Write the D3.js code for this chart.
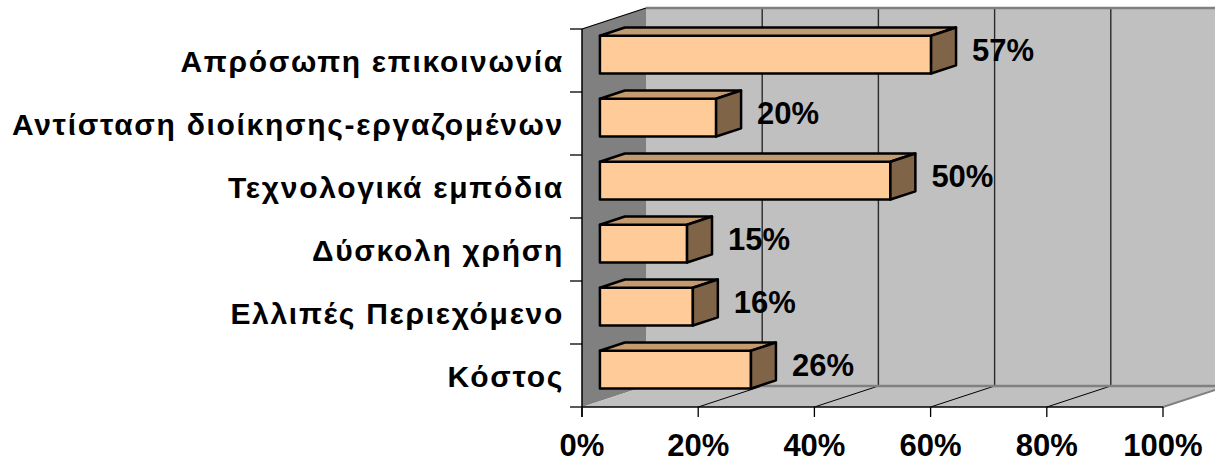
<!DOCTYPE html>
<html>
<head>
<meta charset="utf-8">
<script src="https://cdn.jsdelivr.net/npm/d3@7"></script>
<style>
  body { margin: 0; background: #fff; }
  text { font-family: "Liberation Sans", Arial, sans-serif; font-weight: bold; fill: #000; }
</style>
</head>
<body>
<script>
var categories = [
  'Απρόσωπη επικοινωνία',
  'Αντίσταση διοίκησης-εργαζομένων',
  'Τεχνολογικά εμπόδια',
  'Δύσκολη χρήση',
  'Ελλιπές Περιεχόμενο',
  'Κόστος'
];
var values = [57, 20, 50, 15, 16, 26];
var valueLabels = ['57%', '20%', '50%', '15%', '16%', '26%'];
var tickValues = [0, 20, 40, 60, 80, 100];
var tickLabels = ['0%', '20%', '40%', '60%', '80%', '100%'];

var width = 1215, height = 462;
// depth of the 3d box, and where the bars sit inside it
var depthX = 64, depthY = 21;
var barFront = 0.28, barBack = 0.67;
var wallTop = 8, floorY = 407;

var x = d3.scaleLinear().domain([0, 100]).range([582, 1163]);
var y = d3.scaleBand().domain(categories)
  .range([wallTop + depthY, floorY])
  .paddingInner(0.4).paddingOuter(0.2);

var svg = d3.select('body').append('svg')
  .attr('width', width).attr('height', height);

var line = function (pts) { return 'M' + pts.map(function (p) { return p.join(','); }).join('L') + 'Z'; };

var x0 = x(0), x1 = x(100);
var backBottom = floorY - depthY;

// side wall
svg.append('path')
  .attr('d', line([[x0, wallTop + depthY], [x0 + depthX, wallTop], [x0 + depthX, backBottom], [x0, floorY]]))
  .attr('fill', '#808080');
// back wall
svg.append('rect')
  .attr('x', x0 + depthX).attr('y', wallTop)
  .attr('width', x1 - x0).attr('height', backBottom - wallTop)
  .attr('fill', '#c0c0c0');
// floor
svg.append('path')
  .attr('d', line([[x0, floorY], [x0 + depthX, backBottom], [x1 + depthX, backBottom], [x1, floorY]]))
  .attr('fill', '#c0c0c0');

// gridlines on the back wall and floor
var inner = tickValues.filter(function (t) { return t > 0 && t < 100; });
svg.append('g').selectAll('line').data(inner).enter().append('line')
  .attr('x1', function (t) { return x(t) + depthX; })
  .attr('x2', function (t) { return x(t) + depthX; })
  .attr('y1', wallTop).attr('y2', backBottom)
  .attr('stroke', '#2a2a2a').attr('stroke-width', 1.4);
svg.append('g').selectAll('line').data(inner).enter().append('line')
  .attr('x1', function (t) { return x(t); })
  .attr('x2', function (t) { return x(t) + depthX; })
  .attr('y1', floorY).attr('y2', backBottom)
  .attr('stroke', '#000').attr('stroke-width', 1);

// wall edges
svg.append('line').attr('x1', x0 + depthX).attr('x2', width)
  .attr('y1', wallTop).attr('y2', wallTop)
  .attr('stroke', '#808080').attr('stroke-width', 2.5);
svg.append('line').attr('x1', x0 + depthX).attr('x2', width)
  .attr('y1', backBottom).attr('y2', backBottom)
  .attr('stroke', '#808080').attr('stroke-width', 2.5);
svg.append('line').attr('x1', x1).attr('x2', x1 + depthX)
  .attr('y1', floorY).attr('y2', backBottom)
  .attr('stroke', '#808080').attr('stroke-width', 2);
svg.append('line').attr('x1', x0).attr('x2', x0 + depthX)
  .attr('y1', wallTop + depthY).attr('y2', wallTop)
  .attr('stroke', '#000').attr('stroke-width', 1.3);

// axes
svg.append('line').attr('x1', x0).attr('x2', x1)
  .attr('y1', floorY).attr('y2', floorY)
  .attr('stroke', '#000').attr('stroke-width', 1.5);
svg.append('line').attr('x1', x0).attr('x2', x0)
  .attr('y1', wallTop + depthY).attr('y2', floorY + 10)
  .attr('stroke', '#000').attr('stroke-width', 1.5);

svg.append('g').selectAll('line').data(tickValues).enter().append('line')
  .attr('x1', function (t) { return x(t); })
  .attr('x2', function (t) { return x(t); })
  .attr('y1', floorY).attr('y2', floorY + 10)
  .attr('stroke', '#000').attr('stroke-width', 1.3);

var step = y.step();
var catTicks = d3.range(categories.length + 1);
svg.append('g').selectAll('line').data(catTicks).enter().append('line')
  .attr('x1', x0 - 12).attr('x2', x0)
  .attr('y1', function (i) { return wallTop + depthY + i * step; })
  .attr('y2', function (i) { return wallTop + depthY + i * step; })
  .attr('stroke', '#000').attr('stroke-width', 1.3);

svg.append('g').selectAll('text').data(tickValues).enter().append('text')
  .attr('x', function (t) { return x(t); })
  .attr('y', 456)
  .attr('text-anchor', 'middle')
  .style('font-size', '31px')
  .text(function (t, i) { return tickLabels[i]; });

svg.append('g').selectAll('text').data(categories).enter().append('text')
  .attr('x', 564)
  .attr('y', function (c) { return y(c) + y.bandwidth() / 2 + 11; })
  .attr('text-anchor', 'end')
  .style('font-size', '30px')
  .style('letter-spacing', '1.7px')
  .text(function (c) { return c; });

// bars: front, top and side faces
var fdx = barFront * depthX, fdy = barFront * depthY;
var ddx = (barBack - barFront) * depthX, ddy = (barBack - barFront) * depthY;
var bw = y.bandwidth();

var bars = svg.append('g').selectAll('g').data(categories).enter().append('g');

bars.each(function (c, i) {
  var g = d3.select(this);
  var bx0 = x(0) + fdx, bx1 = x(values[i]) + fdx;
  var by0 = y(c) - fdy, by1 = by0 + bw;
  var faces = [
    { d: [[bx0, by0], [bx1, by0], [bx1, by1], [bx0, by1]], fill: '#ffcc99' },
    { d: [[bx0, by0], [bx0 + ddx, by0 - ddy], [bx1 + ddx, by0 - ddy], [bx1, by0]], fill: '#c49a70' },
    { d: [[bx1, by0], [bx1 + ddx, by0 - ddy], [bx1 + ddx, by1 - ddy], [bx1, by1]], fill: '#806448' }
  ];
  g.selectAll('path').data(faces).enter().append('path')
    .attr('d', function (f) { return line(f.d); })
    .attr('fill', function (f) { return f.fill; })
    .attr('stroke', '#000')
    .attr('stroke-width', 2.5)
    .attr('stroke-linejoin', 'round');
  g.append('text')
    .attr('x', bx1 + ddx + 16)
    .attr('y', by0 + 25)
    .style('font-size', '31px')
    .text(valueLabels[i]);
});
</script>
</body>
</html>
